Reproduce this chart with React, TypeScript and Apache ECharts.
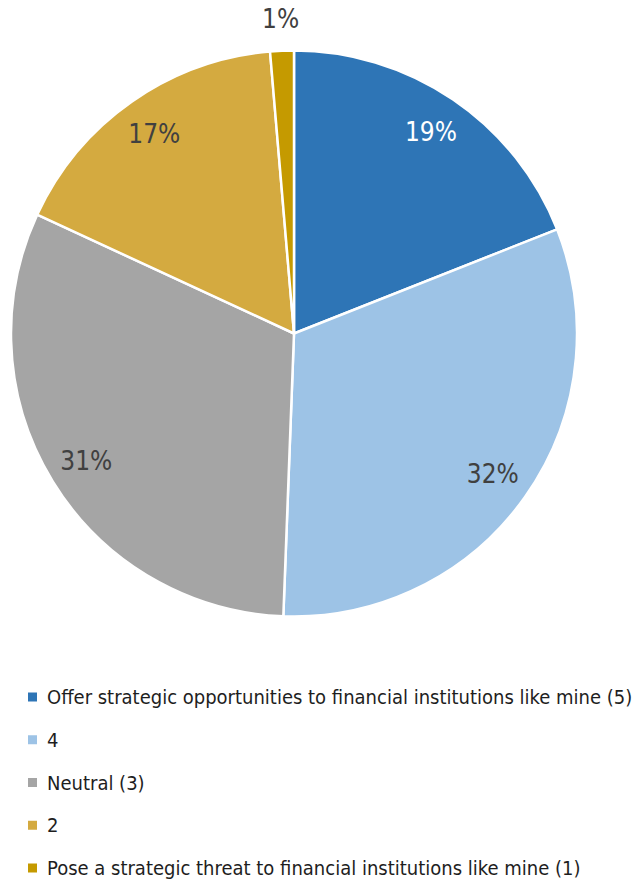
import React, { useEffect, useRef } from "react";
import * as echarts from "echarts";

const categories = [
  "Offer strategic opportunities to financial institutions like mine (5)",
  "4",
  "Neutral (3)",
  "2",
  "Pose a strategic threat to financial institutions like mine (1)",
];
const values = [19.0, 31.6, 31.3, 16.75, 1.35];
const colors = ["#2E75B6", "#9DC3E6", "#A5A5A5", "#D4AA40", "#C59A00"];
const labelColors = ["#FFFFFF", "#404040", "#404040", "#404040", "#404040"];

const FONT = "'DejaVu Sans Condensed', 'Liberation Sans Narrow', sans-serif";

export default function App() {
  const ref = useRef<HTMLDivElement>(null);
  useEffect(() => {
    if (!ref.current) return;
    const chart = echarts.init(ref.current, null, { renderer: "svg" });
    const cx = 294;
    const cy = 333.5;
    const R = 283;
    const fmt = (p: any) => `${Math.round(p.value)}%`;
    chart.setOption({
      animation: false,
      backgroundColor: "#FFFFFF",
      legend: {
        orient: "vertical",
        left: 21,
        top: 682,
        icon: "rect",
        itemWidth: 11,
        itemHeight: 11,
        itemGap: 22.75,
        textStyle: {
          fontFamily: FONT,
          fontSize: 20,
          lineHeight: 20,
          color: "#1E1E1E",
          padding: [0, 0, 0, 4],
        },
        data: categories,
      },
      series: [
        {
          type: "pie",
          center: [cx, cy],
          radius: [0, R],
          startAngle: 90,
          clockwise: true,
          silent: true,
          label: { show: false },
          labelLine: { show: false },
          itemStyle: { borderColor: "#FFFFFF", borderWidth: 2.5 },
          data: categories.map((name, i) => ({
            name,
            value: values[i],
            itemStyle: { color: colors[i] },
          })),
        },
        {
          type: "pie",
          center: [cx, cy],
          radius: [R * 0.7, R],
          startAngle: 90,
          clockwise: true,
          silent: true,
          legendHoverLink: false,
          itemStyle: { color: "rgba(0,0,0,0)" },
          labelLine: { show: false },
          data: categories.map((name, i) => ({
            name: name + " ",
            value: values[i],
            label: {
              show: i < 4,
              position: "inside",
              formatter: fmt,
              fontFamily: FONT,
              fontSize: 26,
              color: labelColors[i],
            },
          })),
        },
        {
          type: "pie",
          center: [cx, cy],
          radius: [R, R + 58],
          startAngle: 90,
          clockwise: true,
          silent: true,
          legendHoverLink: false,
          itemStyle: { color: "rgba(0,0,0,0)" },
          labelLine: { show: false },
          data: categories.map((name, i) => ({
            name: name + "  ",
            value: values[i],
            label: {
              show: i === 4,
              position: "inside",
              formatter: fmt,
              fontFamily: FONT,
              fontSize: 26,
              color: labelColors[i],
            },
          })),
        },
      ],
    });
    return () => chart.dispose();
  }, []);
  return (
    <div
      ref={ref}
      style={{ position: "absolute", left: 0, top: 0, width: 633, height: 895 }}
    />
  );
}
